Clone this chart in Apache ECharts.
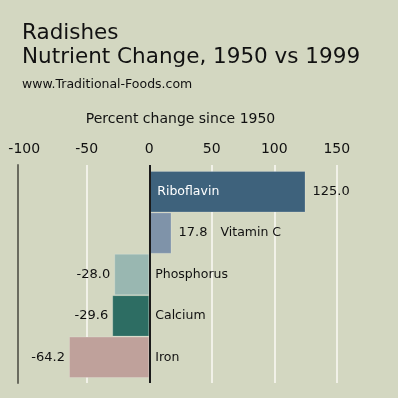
<!DOCTYPE html>
<html><head><meta charset="utf-8">
<script src="https://cdn.jsdelivr.net/npm/echarts@6/dist/echarts.min.js"></script>
<style>html,body{margin:0;padding:0;background:#d3d7c1;}#c{width:398px;height:398px;}</style>
</head><body><div id="c"></div>
<script>
const titleLines = ['Radishes', 'Nutrient Change, 1950 vs 1999'];
const sourceText = 'www.Traditional-Foods.com';
const axisTitle = 'Percent change since 1950';
const categories = ['Riboflavin', 'Vitamin C', 'Phosphorus', 'Calcium', 'Iron'];
const values = [125.0, 17.8, -28.0, -29.6, -64.2];
const barColors = ['#3e627c', '#7f93a9', '#99b7b1', '#2d6d63', '#bfa19b'];
const tickValues = [-100, -50, 0, 50, 100, 150];
const gridLineValues = [-50, 50, 100, 150];
const xMin = -105, xMax = 185;

const FONT = 'DejaVu Sans';
const chart = echarts.init(document.getElementById('c'));

const barData = values.map((v, i) => ({
  value: v,
  itemStyle: { color: barColors[i] },
  label: { position: v >= 0 ? 'right' : 'left', distance: v >= 0 ? 7 : 4 }
}));

const nameData = categories.map((c, i) => {
  const v = values[i];
  if (v > 50) {
    return { value: [0, c], label: { distance: 8, color: '#ffffff' } };
  } else if (v > 0) {
    return { value: [v, c], label: { distance: 49 } };
  }
  return { value: [0, c], label: { distance: 6 } };
});

const gridMarks = gridLineValues.map(v => ({ xAxis: v }));
const zeroMark = [{ xAxis: 0 }];

chart.setOption({
  backgroundColor: '#d3d7c1',
  animation: false,
  title: [
    { text: titleLines.join('\n'), left: 22, top: 21, padding: 0,
      textStyle: { fontFamily: FONT, fontSize: 21.5, fontWeight: 'normal', lineHeight: 24, color: '#111' } },
    { text: sourceText, left: 22, top: 77, padding: 0,
      textStyle: { fontFamily: FONT, fontSize: 12.5, fontWeight: 'normal', lineHeight: 15, color: '#111' } }
  ],
  graphic: [
    { type: 'text', x: 180.5, y: 119,
      style: { text: axisTitle, font: '14px "DejaVu Sans"', fill: '#111', align: 'center', verticalAlign: 'middle' } }
  ],
  grid: [
    { left: 18, right: 17.5, top: 165, bottom: 15 },
    { left: 18, right: 17.5, top: 171, bottom: 20 }
  ],
  xAxis: [
    { type: 'value', gridIndex: 0, min: xMin, max: xMax, position: 'top',
      axisLine: { show: false }, axisTick: { show: false },
      axisLabel: { show: true, margin: 9, fontFamily: FONT, fontSize: 14, color: '#111',
        formatter: v => (tickValues.indexOf(v) >= 0 ? String(v) : '') },
      splitLine: { show: false } },
    { type: 'value', gridIndex: 1, min: xMin, max: xMax, show: false,
      splitLine: { show: false } }
  ],
  yAxis: [
    { type: 'value', gridIndex: 0, min: 0, max: 1,
      axisLine: { show: true, onZero: false, lineStyle: { color: '#6a6b5f', width: 2 } },
      axisTick: { show: false }, axisLabel: { show: false }, splitLine: { show: false } },
    { type: 'category', gridIndex: 1, data: categories, inverse: true, show: false }
  ],
  series: [
    { type: 'line', xAxisIndex: 0, yAxisIndex: 0, data: [], z: 0,
      markLine: { silent: true, z: 0, symbol: ['none', 'none'], label: { show: false },
        lineStyle: { color: '#f1f1e8', width: 2, type: 'solid' },
        data: gridMarks } },
    { type: 'bar', xAxisIndex: 1, yAxisIndex: 1, data: barData, barCategoryGap: 0,
      itemStyle: { borderColor: 'rgba(255,255,255,0.18)', borderWidth: 1 },
      label: { show: true, fontFamily: FONT, fontSize: 13, color: '#111',
        formatter: p => p.value.toFixed(1) }, z: 3 },
    { type: 'scatter', xAxisIndex: 1, yAxisIndex: 1, data: nameData, symbolSize: 0,
      itemStyle: { opacity: 1 },
      label: { show: true, position: 'right', fontFamily: FONT, fontSize: 12.5, color: '#111',
        formatter: p => p.value[1] }, z: 6 },
    { type: 'line', xAxisIndex: 0, yAxisIndex: 0, data: [], z: 10,
      markLine: { silent: true, z: 10, symbol: ['none', 'none'], label: { show: false },
        lineStyle: { color: '#1a1a1a', width: 2, type: 'solid' },
        data: zeroMark } }
  ]
});
</script>
</body></html>
